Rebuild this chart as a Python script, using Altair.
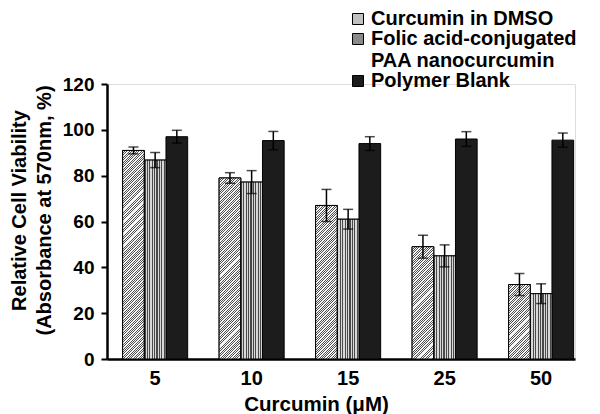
import math
import altair as alt
import pandas as pd

doses = ["5", "10", "15", "25", "50"]
series = ["Curcumin in DMSO", "Folic acid-conjugated|PAA nanocurcumin", "Polymer Blank"]
dmso = [91, 79, 67, 49, 32.5]
dmso_err = [1.5, 2.3, 7, 5, 4.8]
folic = [86.8, 77.2, 61, 45, 28.5]
folic_err = [3.3, 5, 4.3, 4.8, 4.3]
blank = [97, 95.3, 94, 96, 95.5]
blank_err = [2.8, 4, 3, 3.2, 3.1]

rows = []
for vals, errs, s in [(dmso, dmso_err, series[0]), (folic, folic_err, series[1]), (blank, blank_err, series[2])]:
    for d, v, e in zip(doses, vals, errs):
        rows.append({"dose": d, "series": s, "value": v, "lo": v - e, "hi": v + e})
df = pd.DataFrame(rows)

FONT = "Liberation Sans"
W, H = 468, 275
P_IN, P_OUT = 0.326, 0.088

# vertical stripe texture for the folic bars
n = 9
stops = []
for i in range(n):
    a, b, c = i / n, (i + 0.5) / n, (i + 1) / n
    stops += [{"offset": a, "color": "#4a4a4a"}, {"offset": b, "color": "#4a4a4a"},
              {"offset": b, "color": "#d8d8d8"}, {"offset": c, "color": "#d8d8d8"}]
stripes = alt.LinearGradient(gradient="linear", stops=stops, x1=0, x2=1, y1=0, y2=0)


# diagonal hatch texture for the DMSO bars (one gradient per bar, so the 45 deg angle holds)
def hatch(v):
    step = W / (len(doses) - P_IN + 2 * P_OUT)
    w = step * (1 - P_IN) / 3
    h = max(v / 120 * H, 1)
    s = (1 / h + 1 / w) / (1 / h ** 2 + 1 / w ** 2)
    k = max(2, round((w + h) / math.sqrt(2) / 1.7))
    st = []
    for i in range(k):
        a, b, c = i / k, (i + 0.4) / k, (i + 1) / k
        st += [{"offset": a, "color": "#505050"}, {"offset": b, "color": "#505050"},
               {"offset": b, "color": "#f6f6f6"}, {"offset": c, "color": "#f6f6f6"}]
    return {"gradient": "linear", "x1": 0, "y1": 0, "x2": s / h, "y2": s / w, "stops": st}


hatch_rows = [{"dose": d, "series": series[0], "value": v, "grad": hatch(v)} for d, v in zip(doses, dmso)]

xenc = alt.X("dose:N", sort=doses,
             scale=alt.Scale(paddingInner=P_IN, paddingOuter=P_OUT, align=0.92),
             axis=alt.Axis(title="Curcumin (\u03bcM)", labelAngle=0, ticks=False,
                           labelFont=FONT, labelFontWeight="bold", labelFontSize=20,
                           labelColor="black", labelPadding=9,
                           titleFont=FONT, titleFontWeight="bold", titleFontSize=20.5,
                           titleColor="black", titleX=209, titleY=51,
                           titleBaseline="alphabetic", titleAlign="center",
                           domainColor="black", domainWidth=2.5))
xoff = alt.XOffset("series:N", sort=series, scale=alt.Scale(domain=series, paddingInner=0, paddingOuter=0))
yscale = alt.Scale(domain=[0, 120])

bars = alt.Chart(df).mark_bar(stroke="black", strokeWidth=1).encode(
    x=xenc,
    xOffset=xoff,
    y=alt.Y("value:Q", scale=yscale, stack=None,
            axis=alt.Axis(values=[0, 20, 40, 60, 80, 100, 120], grid=False,
                          title=["Relative Cell Viability", "(Absorbance at 570nm, %)"],
                          labelFont=FONT, labelFontWeight="bold", labelFontSize=19,
                          labelColor="black", labelPadding=7,
                          tickColor="black", tickSize=6, tickWidth=2,
                          domainColor="black", domainWidth=2.5,
                          titleFont=FONT, titleFontWeight="bold", titleFontSize=20,
                          titleColor="black", titleLineHeight=25,
                          titleX=-82, titleY=126, titleAngle=270,
                          titleBaseline="alphabetic", titleAlign="center")),
    color=alt.Color("series:N", sort=series,
                    scale=alt.Scale(domain=series, range=["#c0c0c0", "#8a8a8a", "#1c1c1c"]),
                    legend=alt.Legend(title=None, orient="none", legendX=241, legendY=-75,
                                      padding=0, symbolType="square", symbolSize=121,
                                      symbolStrokeColor="black", symbolStrokeWidth=1,
                                      labelOffset=3,
                                      labelFont=FONT, labelFontWeight="bold", labelFontSize=20,
                                      labelColor="black", labelLimit=400, rowPadding=-2,
                                      labelExpr="split(datum.label, '|')")),
)

hatch_bars = alt.Chart(alt.Data(values=hatch_rows)).mark_bar(stroke="black", strokeWidth=1).encode(
    x=xenc, xOffset=xoff, y=alt.Y("value:Q", scale=yscale, stack=None),
    fill=alt.Fill("grad:N", scale=None, legend=None),
)

stripe_bars = alt.Chart(df).transform_filter(
    alt.datum.series == series[1]
).mark_bar(stroke="black", strokeWidth=1).encode(
    x=xenc, xOffset=xoff, y=alt.Y("value:Q", scale=yscale, stack=None), fill=alt.value(stripes)
)

rule = alt.Chart(df).mark_rule(color="black", strokeWidth=1.5).encode(
    x=xenc, xOffset=xoff, y=alt.Y("lo:Q", scale=yscale), y2="hi:Q"
)
cap_hi = alt.Chart(df).mark_tick(color="black", thickness=1.5, size=10).encode(
    x=xenc, xOffset=xoff, y=alt.Y("hi:Q", scale=yscale)
)
cap_lo = alt.Chart(df).mark_tick(color="black", thickness=1.5, size=10).encode(
    x=xenc, xOffset=xoff, y=alt.Y("lo:Q", scale=yscale)
)

chart = alt.layer(bars, hatch_bars, stripe_bars, rule, cap_hi, cap_lo).properties(
    width=W, height=H,
    padding={"left": 99, "top": 76, "right": 17, "bottom": 60},
    autosize=alt.AutoSizeParams(type="none"),
).configure_view(stroke=None).configure(background="white")

chart.save("out.html", embed_options={"renderer": "svg", "actions": False})
